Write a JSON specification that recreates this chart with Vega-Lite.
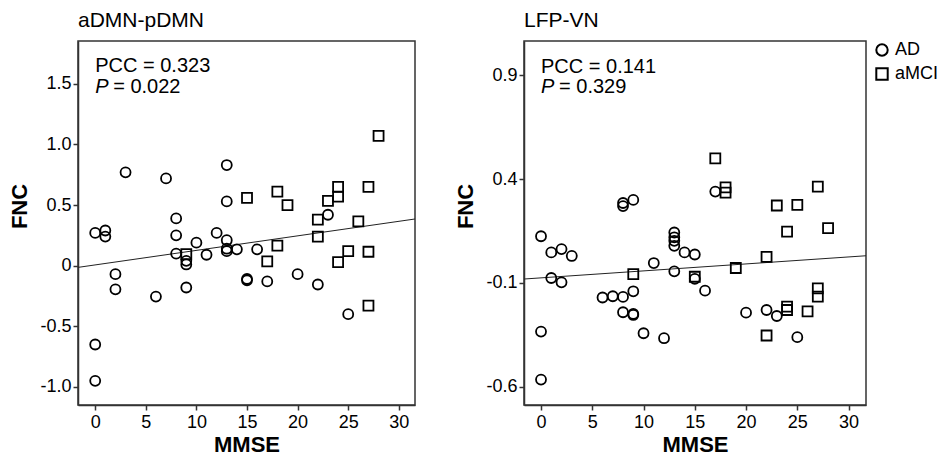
{
  "$schema": "https://vega.github.io/schema/vega-lite/v6.json",
  "padding": {"left": 8, "top": 9, "right": 0, "bottom": 0},
  "config": {
    "font": "Liberation Sans",
    "view": {"stroke": "#333", "strokeWidth": 1.5},
    "axis": {
      "grid": false,
      "domainColor": "#333",
      "domainWidth": 1.5,
      "tickColor": "#333",
      "tickWidth": 1.5,
      "tickSize": 5,
      "labelFontSize": 18,
      "labelColor": "black",
      "labelPadding": 2,
      "titleFontSize": 22,
      "titleFontWeight": "bold",
      "titleColor": "black",
      "titlePadding": 8
    },
    "axisX": {"labelPadding": 3, "titlePadding": 3},
    "title": {"anchor": "start", "frame": "group", "fontSize": 21, "fontWeight": "normal", "color": "black", "offset": 10}
  },
  "datasets": {
    "ptsA": [
      {"MMSE": 0, "FNC": 0.27, "group": "AD"},
      {"MMSE": 0, "FNC": -0.65, "group": "AD"},
      {"MMSE": 0, "FNC": -0.95, "group": "AD"},
      {"MMSE": 1, "FNC": 0.29, "group": "AD"},
      {"MMSE": 1, "FNC": 0.24, "group": "AD"},
      {"MMSE": 2, "FNC": -0.07, "group": "AD"},
      {"MMSE": 2, "FNC": -0.195, "group": "AD"},
      {"MMSE": 3, "FNC": 0.77, "group": "AD"},
      {"MMSE": 6, "FNC": -0.255, "group": "AD"},
      {"MMSE": 7, "FNC": 0.72, "group": "AD"},
      {"MMSE": 8, "FNC": 0.39, "group": "AD"},
      {"MMSE": 8, "FNC": 0.25, "group": "AD"},
      {"MMSE": 8, "FNC": 0.1, "group": "AD"},
      {"MMSE": 9, "FNC": 0.04, "group": "AD"},
      {"MMSE": 9, "FNC": 0.01, "group": "AD"},
      {"MMSE": 9, "FNC": -0.18, "group": "AD"},
      {"MMSE": 10, "FNC": 0.19, "group": "AD"},
      {"MMSE": 11, "FNC": 0.09, "group": "AD"},
      {"MMSE": 12, "FNC": 0.27, "group": "AD"},
      {"MMSE": 13, "FNC": 0.83, "group": "AD"},
      {"MMSE": 13, "FNC": 0.53, "group": "AD"},
      {"MMSE": 13, "FNC": 0.21, "group": "AD"},
      {"MMSE": 13, "FNC": 0.14, "group": "AD"},
      {"MMSE": 13, "FNC": 0.12, "group": "AD"},
      {"MMSE": 14, "FNC": 0.135, "group": "AD"},
      {"MMSE": 15, "FNC": -0.11, "group": "AD"},
      {"MMSE": 15, "FNC": -0.12, "group": "AD"},
      {"MMSE": 16, "FNC": 0.135, "group": "AD"},
      {"MMSE": 17, "FNC": -0.13, "group": "AD"},
      {"MMSE": 20, "FNC": -0.07, "group": "AD"},
      {"MMSE": 22, "FNC": -0.155, "group": "AD"},
      {"MMSE": 23, "FNC": 0.42, "group": "AD"},
      {"MMSE": 25, "FNC": -0.4, "group": "AD"},
      {"MMSE": 9, "FNC": 0.095, "group": "aMCI"},
      {"MMSE": 15, "FNC": 0.56, "group": "aMCI"},
      {"MMSE": 17, "FNC": 0.035, "group": "aMCI"},
      {"MMSE": 18, "FNC": 0.61, "group": "aMCI"},
      {"MMSE": 18, "FNC": 0.165, "group": "aMCI"},
      {"MMSE": 19, "FNC": 0.5, "group": "aMCI"},
      {"MMSE": 22, "FNC": 0.38, "group": "aMCI"},
      {"MMSE": 22, "FNC": 0.24, "group": "aMCI"},
      {"MMSE": 23, "FNC": 0.535, "group": "aMCI"},
      {"MMSE": 24, "FNC": 0.65, "group": "aMCI"},
      {"MMSE": 24, "FNC": 0.57, "group": "aMCI"},
      {"MMSE": 24, "FNC": 0.03, "group": "aMCI"},
      {"MMSE": 25, "FNC": 0.12, "group": "aMCI"},
      {"MMSE": 26, "FNC": 0.365, "group": "aMCI"},
      {"MMSE": 27, "FNC": 0.65, "group": "aMCI"},
      {"MMSE": 27, "FNC": 0.115, "group": "aMCI"},
      {"MMSE": 27, "FNC": -0.33, "group": "aMCI"},
      {"MMSE": 28, "FNC": 1.07, "group": "aMCI"}
    ],
    "ptsB": [
      {"MMSE": 0, "FNC": 0.125, "group": "AD"},
      {"MMSE": 0, "FNC": -0.334, "group": "AD"},
      {"MMSE": 0, "FNC": -0.565, "group": "AD"},
      {"MMSE": 1, "FNC": 0.047, "group": "AD"},
      {"MMSE": 1, "FNC": -0.076, "group": "AD"},
      {"MMSE": 2, "FNC": 0.063, "group": "AD"},
      {"MMSE": 2, "FNC": -0.097, "group": "AD"},
      {"MMSE": 3, "FNC": 0.03, "group": "AD"},
      {"MMSE": 6, "FNC": -0.17, "group": "AD"},
      {"MMSE": 7, "FNC": -0.164, "group": "AD"},
      {"MMSE": 8, "FNC": -0.167, "group": "AD"},
      {"MMSE": 8, "FNC": 0.285, "group": "AD"},
      {"MMSE": 8, "FNC": 0.27, "group": "AD"},
      {"MMSE": 8, "FNC": -0.241, "group": "AD"},
      {"MMSE": 9, "FNC": 0.3, "group": "AD"},
      {"MMSE": 9, "FNC": -0.14, "group": "AD"},
      {"MMSE": 9, "FNC": -0.249, "group": "AD"},
      {"MMSE": 9, "FNC": -0.254, "group": "AD"},
      {"MMSE": 10, "FNC": -0.342, "group": "AD"},
      {"MMSE": 11, "FNC": -0.004, "group": "AD"},
      {"MMSE": 12, "FNC": -0.366, "group": "AD"},
      {"MMSE": 13, "FNC": 0.143, "group": "AD"},
      {"MMSE": 13, "FNC": 0.12, "group": "AD"},
      {"MMSE": 13, "FNC": 0.103, "group": "AD"},
      {"MMSE": 13, "FNC": 0.079, "group": "AD"},
      {"MMSE": 13, "FNC": -0.044, "group": "AD"},
      {"MMSE": 14, "FNC": 0.047, "group": "AD"},
      {"MMSE": 15, "FNC": 0.037, "group": "AD"},
      {"MMSE": 15, "FNC": -0.08, "group": "AD"},
      {"MMSE": 16, "FNC": -0.137, "group": "AD"},
      {"MMSE": 17, "FNC": 0.34, "group": "AD"},
      {"MMSE": 20, "FNC": -0.243, "group": "AD"},
      {"MMSE": 22, "FNC": -0.23, "group": "AD"},
      {"MMSE": 23, "FNC": -0.259, "group": "AD"},
      {"MMSE": 25, "FNC": -0.361, "group": "AD"},
      {"MMSE": 9, "FNC": -0.057, "group": "aMCI"},
      {"MMSE": 15, "FNC": -0.07, "group": "aMCI"},
      {"MMSE": 17, "FNC": 0.5, "group": "aMCI"},
      {"MMSE": 18, "FNC": 0.36, "group": "aMCI"},
      {"MMSE": 18, "FNC": 0.335, "group": "aMCI"},
      {"MMSE": 19, "FNC": -0.028, "group": "aMCI"},
      {"MMSE": 22, "FNC": 0.026, "group": "aMCI"},
      {"MMSE": 22, "FNC": -0.353, "group": "aMCI"},
      {"MMSE": 23, "FNC": 0.273, "group": "aMCI"},
      {"MMSE": 24, "FNC": 0.147, "group": "aMCI"},
      {"MMSE": 24, "FNC": -0.214, "group": "aMCI"},
      {"MMSE": 24, "FNC": -0.23, "group": "aMCI"},
      {"MMSE": 25, "FNC": 0.276, "group": "aMCI"},
      {"MMSE": 26, "FNC": -0.237, "group": "aMCI"},
      {"MMSE": 27, "FNC": 0.364, "group": "aMCI"},
      {"MMSE": 27, "FNC": -0.126, "group": "aMCI"},
      {"MMSE": 27, "FNC": -0.166, "group": "aMCI"},
      {"MMSE": 28, "FNC": 0.164, "group": "aMCI"}
    ],
    "lineA": [{"MMSE": -1.7, "FNC": -0.014}, {"MMSE": 31.6, "FNC": 0.385}],
    "lineB": [{"MMSE": -1.66, "FNC": -0.081}, {"MMSE": 31.7, "FNC": 0.031}],
    "pccA": [{"MMSE": 0, "FNC": 1.594, "t": "PCC = 0.323"}],
    "pA": [{"MMSE": 0, "FNC": 1.425, "t": "P"}],
    "eqA": [{"MMSE": 0, "FNC": 1.425, "t": "= 0.022"}],
    "pccB": [{"MMSE": 0, "FNC": 0.913, "t": "PCC = 0.141"}],
    "pB": [{"MMSE": 0, "FNC": 0.815, "t": "P"}],
    "eqB": [{"MMSE": 0, "FNC": 0.815, "t": "= 0.329"}]
  },
  "spacing": 38,
  "resolve": {"scale": {"shape": "shared"}, "legend": {"shape": "shared"}},
  "hconcat": [
    {
      "width": 337,
      "height": 364,
      "title": {"text": "aDMN-pDMN"},
      "encoding": {
        "x": {"field": "MMSE", "type": "quantitative",
              "scale": {"domain": [-1.7, 31.6], "nice": false, "zero": false},
              "axis": {"values": [0, 5, 10, 15, 20, 25, 30], "title": "MMSE"}},
        "y": {"field": "FNC", "type": "quantitative",
              "scale": {"domain": [-1.149, 1.853], "nice": false, "zero": false},
              "axis": {"values": [-1, -0.5, 0, 0.5, 1, 1.5], "title": "FNC", "titleY": 165,
                       "labelExpr": "datum.value == 0 ? '0' : replace(format(datum.value, '.1f'), '\u2212', '-')"}}
      },
      "layer": [
        {"data": {"name": "lineA"}, "mark": {"type": "line", "color": "#222", "strokeWidth": 1, "clip": true}},
        {"data": {"name": "ptsA"},
         "mark": {"type": "point", "filled": false, "stroke": "black", "strokeWidth": 1.8, "size": 100, "opacity": 1},
         "encoding": {"shape": {"field": "group", "type": "nominal",
            "scale": {"domain": ["AD", "aMCI"], "range": ["circle", "square"]},
            "legend": {"title": null, "orient": "right", "offset": 6, "padding": 0, "labelFontSize": 18, "labelColor": "black",
                       "symbolSize": 130, "symbolStrokeWidth": 2, "symbolStrokeColor": "black", "symbolFillColor": "transparent",
                       "rowPadding": 4, "labelOffset": 4}}}},
        {"data": {"name": "pccA"}, "mark": {"type": "text", "align": "left", "baseline": "alphabetic", "fontSize": 20, "color": "black"},
         "encoding": {"text": {"field": "t"}}},
        {"data": {"name": "pA"}, "mark": {"type": "text", "align": "left", "baseline": "alphabetic", "fontSize": 20, "fontStyle": "italic", "color": "black"},
         "encoding": {"text": {"field": "t"}}},
        {"data": {"name": "eqA"}, "mark": {"type": "text", "align": "left", "baseline": "alphabetic", "fontSize": 20, "dx": 18, "color": "black"},
         "encoding": {"text": {"field": "t"}}}
      ]
    },
    {
      "width": 342,
      "height": 364,
      "title": {"text": "LFP-VN"},
      "encoding": {
        "x": {"field": "MMSE", "type": "quantitative",
              "scale": {"domain": [-1.66, 31.7], "nice": false, "zero": false},
              "axis": {"values": [0, 5, 10, 15, 20, 25, 30], "title": "MMSE"}},
        "y": {"field": "FNC", "type": "quantitative",
              "scale": {"domain": [-0.6875, 1.065], "nice": false, "zero": false},
              "axis": {"values": [-0.6, -0.1, 0.4, 0.9], "title": "FNC", "titleY": 165,
                       "labelExpr": "replace(format(datum.value, '.1f'), '\u2212', '-')"}}
      },
      "layer": [
        {"data": {"name": "lineB"}, "mark": {"type": "line", "color": "#222", "strokeWidth": 1, "clip": true}},
        {"data": {"name": "ptsB"},
         "mark": {"type": "point", "filled": false, "stroke": "black", "strokeWidth": 1.8, "size": 100, "opacity": 1},
         "encoding": {"shape": {"field": "group", "type": "nominal",
            "scale": {"domain": ["AD", "aMCI"], "range": ["circle", "square"]},
            "legend": {"title": null, "orient": "right", "offset": 6, "padding": 0, "labelFontSize": 18, "labelColor": "black",
                       "symbolSize": 130, "symbolStrokeWidth": 2, "symbolStrokeColor": "black", "symbolFillColor": "transparent",
                       "rowPadding": 4, "labelOffset": 4}}}},
        {"data": {"name": "pccB"}, "mark": {"type": "text", "align": "left", "baseline": "alphabetic", "fontSize": 20, "color": "black"},
         "encoding": {"text": {"field": "t"}}},
        {"data": {"name": "pB"}, "mark": {"type": "text", "align": "left", "baseline": "alphabetic", "fontSize": 20, "fontStyle": "italic", "color": "black"},
         "encoding": {"text": {"field": "t"}}},
        {"data": {"name": "eqB"}, "mark": {"type": "text", "align": "left", "baseline": "alphabetic", "fontSize": 20, "dx": 18, "color": "black"},
         "encoding": {"text": {"field": "t"}}}
      ]
    }
  ]
}
